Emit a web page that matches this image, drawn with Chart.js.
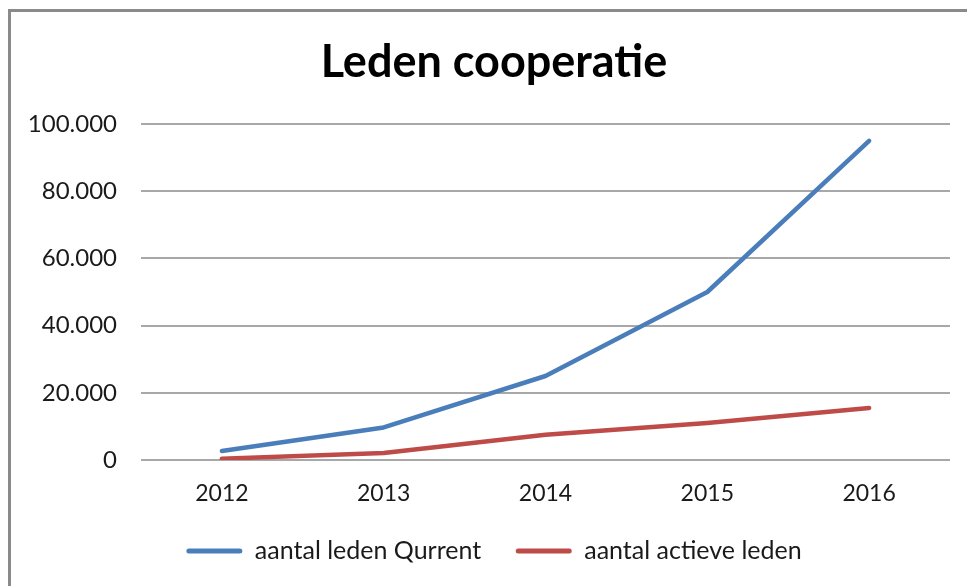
<!DOCTYPE html>
<html>
<head>
<meta charset="utf-8">
<script src="https://cdn.jsdelivr.net/npm/chart.js@4.4.1/dist/chart.umd.min.js"></script>
<style>
  html, body { margin: 0; padding: 0; background: #fff; }
  #wrap { position: relative; width: 967px; height: 586px; overflow: hidden; }
  #frame { position: absolute; left: 8px; top: 9px; width: 1000px; height: 600px;
           border-left: 3px solid #8a8a8a; border-top: 3px solid #8a8a8a; box-sizing: border-box; }
  canvas { position: absolute; left: 0; top: 0; }
</style>
</head>
<body>
<div id="wrap">
  <div id="frame"></div>
  <canvas id="c" width="967" height="586"></canvas>
</div>
<script>
const categories = ['2012', '2013', '2014', '2015', '2016'];
const seriesNames = ['aantal leden Qurrent', 'aantal actieve leden'];
const ledenQurrent = [2700, 9700, 25000, 50000, 95000];
const actieveLeden = [400, 2100, 7500, 11000, 15500];
const yTickValues = [0, 20000, 40000, 60000, 80000, 100000];
const titleText = 'Leden cooperatie';

function fmtNL(v) {
  return String(v).replace(/\B(?=(\d{3})+(?!\d))/g, '.');
}

const FONT = 'Lato, "Open Sans", "Liberation Sans", sans-serif';

new Chart(document.getElementById('c'), {
  type: 'line',
  data: {
    labels: categories,
    datasets: [
      { label: seriesNames[0], data: ledenQurrent, borderColor: '#4a7ebb', backgroundColor: '#4a7ebb',
        borderWidth: 4.5, pointRadius: 0, tension: 0, borderCapStyle: 'round', borderJoinStyle: 'round' },
      { label: seriesNames[1], data: actieveLeden, borderColor: '#be4b48', backgroundColor: '#be4b48',
        borderWidth: 4.5, pointRadius: 0, tension: 0, borderCapStyle: 'round', borderJoinStyle: 'round' }
    ]
  },
  options: {
    responsive: false,
    animation: false,
    devicePixelRatio: 1,
    layout: { padding: { left: 28, right: 7, top: 0, bottom: 12.5 } },
    plugins: {
      title: {
        display: true, text: titleText, color: '#000',
        font: { family: FONT, size: 45, weight: 'bold', lineHeight: 1.2 },
        padding: { top: 35, bottom: 35 }
      },
      legend: {
        position: 'bottom',
        labels: {
          color: '#1a1a1a',
          font: { family: FONT, size: 25 },
          boxWidth: 56, boxHeight: 5, padding: 34.5,
          generateLabels(chart) {
            const items = Chart.defaults.plugins.legend.labels.generateLabels(chart);
            items.forEach(it => { it.lineWidth = 0; it.borderRadius = 2.5; });
            return items;
          }
        }
      },
      tooltip: { enabled: false }
    },
    scales: {
      x: {
        offset: true,
        afterFit(scale) { scale.height = 44; },
        grid: { display: false, drawTicks: false },
        border: { display: false },
        ticks: { color: '#1a1a1a', font: { family: FONT, size: 23 }, padding: 20.2 }
      },
      y: {
        min: 0, max: 100000,
        afterFit(scale) { scale.width = 113; },
        afterBuildTicks(scale) { scale.ticks = yTickValues.map(v => ({ value: v })); },
        grid: { color: '#a8a8a8', lineWidth: 2, drawTicks: false },
        border: { display: false },
        ticks: { color: '#1a1a1a', font: { family: FONT, size: 24 }, padding: 24,
                 callback: v => fmtNL(v) }
      },
      yRightSpacer: {
        type: 'linear', position: 'right', display: true,
        afterFit(scale) { scale.width = 10; },
        grid: { display: false, drawTicks: false },
        border: { display: false },
        ticks: { display: false }
      }
    }
  }
});
</script>
</body>
</html>
